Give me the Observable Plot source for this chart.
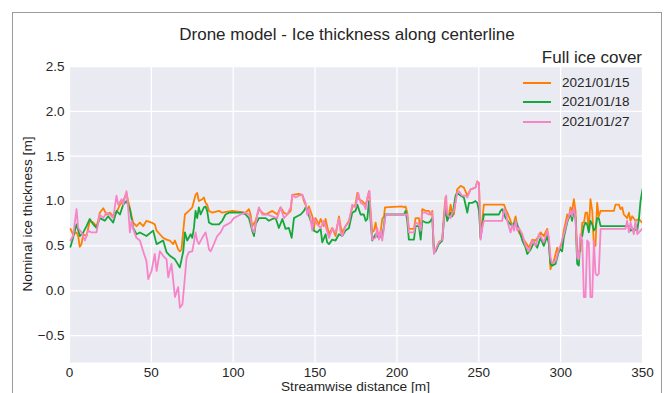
<!DOCTYPE html>
<html>
<head>
<meta charset="utf-8">
<script src="https://cdn.jsdelivr.net/npm/d3@7"></script>
<script src="https://cdn.jsdelivr.net/npm/@observablehq/plot@0.6"></script>
<style>
  html, body { margin: 0; padding: 0; background: #fff; }
  #wrap { position: relative; width: 665px; height: 393px; overflow: hidden; font-family: "Liberation Sans", Arial, sans-serif; color: #262626; }
  #frame { position: absolute; left: 12px; top: 12px; width: 650px; height: 400px; border: 1.5px solid #9a9a9a; box-sizing: border-box; }
  .t { position: absolute; white-space: nowrap; line-height: 1; }
  #chart { position: absolute; left: 0; top: 0; }
  .lg { position: absolute; height: 2px; width: 28px; }
</style>
</head>
<body>
<div id="wrap">
  <div id="frame"></div>
  <div id="chart"></div>
  <div class="t" style="left:347px; top:34px; transform:translate(-50%,-50%); font-size:17px;">Drone model - Ice thickness along centerline</div>
  <div class="t" style="right:23px; top:57px; transform:translateY(-50%); font-size:17px;">Full ice cover</div>
  <div class="t" style="left:355.5px; top:387px; transform:translate(-50%,-50%); font-size:13.7px;">Streamwise distance [m]</div>
  <div class="t" style="left:28px; top:214px; transform:translate(-50%,-50%) rotate(-90deg); font-size:13.7px;">Nominal ice thickness [m]</div>
  <div id="legend"></div>
</div>
<script>
const seriesNames = ["2021/01/15", "2021/01/18", "2021/01/27"];
const seriesColors = ["#ff8000", "#14a83a", "#f784c8"];
const xTicks = [0, 50, 100, 150, 200, 250, 300, 350];
const yTicks = [-0.5, 0, 0.5, 1.0, 1.5, 2.0, 2.5];

const dist15 = [0.6,2.2,4.3,5.3,6.3,7.3,8.4,10.4,12.4,14.5,16.5,17.5,18.5,20.6,22.6,24.6,26.7,28.7,30.8,32.8,34.8,35.8,36.9,37.9,38.9,40.9,43.0,45.0,47.0,50.1,52.1,53.2,55.2,57.2,59.3,61.3,63.3,64.4,66.4,67.4,68.4,69.5,70.5,72.9,75.0,77.0,78.0,79.0,81.1,82.1,83.1,84.1,85.2,87.2,91.3,93.3,99.4,107.6,109.6,110.6,111.6,113.7,115.7,117.7,119.8,123.9,126.9,128.9,131.0,133.0,135.1,136.1,140.1,142.2,143.2,144.2,145.2,146.2,148.3,149.3,150.3,152.3,153.4,155.4,156.4,158.5,160.5,162.5,164.6,165.6,166.6,168.6,170.7,172.7,174.7,175.8,176.8,178.8,180.9,181.9,182.9,183.9,184.9,186.0,187.0,188.0,190.0,191.0,192.1,192.7,203.3,204.3,205.3,206.3,207.3,210.4,211.4,213.4,214.5,215.5,217.5,219.5,220.6,221.6,222.6,223.6,225.6,227.7,228.7,229.7,230.7,231.8,232.8,233.8,234.8,236.8,238.9,240.9,243.0,245.0,248.0,249.1,250.1,251.1,252.1,253.1,265.4,266.4,267.4,269.4,270.5,271.5,272.5,273.5,274.5,276.6,278.6,280.6,282.7,284.7,286.7,287.7,289.7,291.8,292.8,293.8,294.8,295.8,297.9,298.9,300.9,301.9,303.0,304.0,305.0,306.0,307.0,308.1,309.1,310.1,312.1,313.2,314.2,315.2,316.2,317.2,318.2,319.3,320.3,321.3,322.3,323.3,324.4,332.5,333.5,335.6,336.6,337.6,338.6,340.6,341.7,342.7,343.7,345.7,347.8,348.8,349.8,350];
const thick15 = [0.69,0.63,0.65,0.61,0.49,0.52,0.63,0.61,0.78,0.76,0.72,0.78,0.87,0.92,0.85,0.87,0.83,0.87,0.96,1.0,1.09,1.0,0.92,0.83,0.76,0.72,0.76,0.72,0.78,0.76,0.74,0.67,0.63,0.59,0.57,0.56,0.52,0.56,0.46,0.44,0.46,0.67,0.85,0.89,0.93,1.07,1.09,1.0,1.02,1.04,0.98,0.96,0.89,0.87,0.89,0.87,0.89,0.87,0.91,0.85,0.72,0.78,0.91,0.87,0.85,0.89,0.85,0.93,0.87,0.85,0.89,1.07,1.08,1.07,1.0,0.96,0.89,0.94,0.83,0.69,0.81,0.74,0.80,0.72,0.80,0.63,0.70,0.61,0.83,0.72,0.65,0.72,0.78,0.93,0.96,1.09,1.02,1.0,0.96,1.02,1.11,0.89,0.65,0.67,0.76,0.63,0.65,0.80,0.83,0.93,0.94,0.93,0.94,0.87,0.69,0.69,0.81,0.81,0.67,0.91,0.89,0.89,0.85,0.89,0.44,0.44,0.54,0.57,0.85,1.04,0.81,0.85,0.96,0.85,0.85,1.13,1.17,1.15,1.06,1.13,1.15,1.22,1.20,0.59,0.78,0.96,0.96,0.91,0.87,0.78,0.72,0.76,0.83,0.72,0.65,0.59,0.54,0.48,0.57,0.56,0.61,0.65,0.61,0.69,0.56,0.24,0.30,0.33,0.48,0.43,0.54,0.67,0.76,0.85,0.81,0.93,0.89,1.02,0.89,0.44,0.44,0.76,0.76,0.87,0.87,0.67,1.02,0.89,0.50,0.50,0.98,0.83,0.89,0.89,0.96,0.96,0.91,0.93,0.85,0.81,0.87,0.78,0.83,0.78,0.80,0.78,0.76,0.77];

const dist18 = [0.6,2.2,4.3,6.3,8.4,10.4,12.4,14.5,16.5,18.5,21.6,23.6,26.7,28.7,30.8,32.8,34.8,36.9,38.9,40.9,43.0,47.0,51.1,53.2,57.2,59.3,61.3,64.4,67.4,69.5,70.5,71.9,74.0,75.0,76.0,77.0,78.0,79.0,80.1,82.1,83.1,84.1,85.2,87.2,91.3,93.3,95.3,97.4,105.5,107.6,109.6,111.6,112.7,113.7,115.7,119.8,121.8,123.9,125.9,127.9,130.0,132.0,134.0,135.7,137.1,139.1,141.2,143.2,144.2,145.2,147.3,148.3,149.3,151.3,153.4,154.4,156.4,157.4,158.5,160.5,162.5,164.6,166.6,168.6,170.7,172.7,174.7,175.8,177.8,179.8,180.9,181.9,182.9,183.9,184.9,187.0,189.0,191.0,192.1,192.7,204.3,205.3,206.3,207.3,210.4,211.4,213.4,214.5,215.5,217.5,219.5,220.6,221.6,222.6,223.6,225.6,227.7,228.7,229.7,230.7,232.8,233.8,235.8,236.8,238.9,240.9,243.0,244.0,246.0,248.0,249.1,250.1,251.1,252.1,253.1,262.3,263.3,264.3,266.4,268.4,270.5,272.5,274.5,276.6,278.6,279.6,281.7,283.7,285.7,287.7,289.7,291.8,292.8,293.8,294.8,296.9,298.9,299.9,300.9,301.9,304.0,306.0,307.0,308.1,309.1,310.1,311.1,312.1,313.2,314.2,315.2,316.2,317.2,318.2,319.3,320.3,321.3,322.3,323.3,324.4,341.7,342.7,344.7,346.8,347.8,348.8,349.8,350];
const thick18 = [0.49,0.59,0.74,0.61,0.65,0.72,0.80,0.74,0.70,0.81,0.78,0.83,0.76,0.89,0.85,0.96,1.0,0.91,0.70,0.63,0.65,0.61,0.67,0.52,0.56,0.43,0.39,0.35,0.26,0.44,0.65,0.56,0.63,0.59,0.70,0.89,0.81,0.93,0.85,0.93,0.94,0.89,0.76,0.74,0.74,0.78,0.85,0.87,0.87,0.85,0.81,0.67,0.61,0.74,0.81,0.81,0.78,0.80,0.81,0.70,0.80,0.69,0.70,0.59,0.81,0.83,0.85,0.89,0.93,0.89,0.78,0.74,0.67,0.65,0.69,0.54,0.63,0.54,0.52,0.57,0.56,0.63,0.61,0.67,0.70,0.87,0.89,0.96,0.85,0.85,0.78,0.80,1.0,0.78,0.56,0.63,0.59,0.61,0.72,0.85,0.85,0.89,0.78,0.57,0.57,0.72,0.72,0.57,0.78,0.76,0.76,0.78,0.81,0.43,0.44,0.52,0.56,0.78,0.93,0.78,0.87,0.83,1.06,1.09,1.06,1.04,0.87,0.98,0.98,1.0,0.98,0.89,0.59,0.72,0.85,0.85,0.89,0.91,0.81,0.76,0.72,0.78,0.69,0.56,0.48,0.41,0.46,0.54,0.48,0.59,0.50,0.61,0.52,0.30,0.28,0.30,0.44,0.46,0.44,0.59,0.76,0.87,0.78,0.91,0.81,0.30,0.28,0.59,0.61,0.72,0.76,0.74,0.65,0.78,0.74,0.67,0.70,0.81,0.81,0.72,0.72,0.67,0.69,0.67,0.80,1.0,1.11,1.13];

const dist27 = [0.6,2.2,4.3,5.3,7.3,9.4,11.4,13.4,16.5,18.5,20.6,22.6,24.6,26.7,28.7,29.7,31.8,32.8,34.8,35.8,36.9,37.9,38.9,40.9,43.0,45.0,47.0,48.1,50.1,52.1,53.2,55.2,57.2,59.3,60.3,62.3,64.4,66.4,67.4,69.0,70.5,71.5,72.9,75.0,76.0,77.0,78.0,79.0,81.1,83.1,84.1,85.2,86.2,88.2,90.2,92.3,94.3,96.4,98.4,100.4,102.5,104.5,107.6,109.6,110.6,111.6,112.7,113.7,114.7,115.7,117.7,120.8,123.9,126.9,128.9,131.0,133.0,135.1,136.1,138.1,140.1,142.2,144.2,145.2,146.2,148.3,149.3,151.3,153.4,155.4,156.4,158.5,160.5,162.5,164.6,165.6,166.6,168.6,170.7,172.7,174.7,176.4,177.8,179.8,180.9,181.9,183.3,183.9,184.9,187.0,188.0,189.0,190.0,191.0,192.1,193.1,206.3,207.3,210.4,211.4,213.4,214.5,215.5,217.5,219.5,220.6,221.6,222.6,223.6,225.6,227.7,228.7,230.1,230.7,232.8,233.8,234.8,236.8,237.9,239.9,242.0,243.0,245.0,248.0,249.1,250.1,251.1,252.1,253.1,264.3,265.4,266.4,267.4,269.4,270.5,271.5,272.5,273.5,274.5,276.6,278.6,280.6,282.7,284.7,286.7,287.7,289.7,291.8,292.8,293.8,294.8,296.9,298.9,299.9,301.9,304.0,305.0,306.0,307.0,308.1,309.1,310.1,311.1,312.1,313.2,314.2,315.2,316.2,317.2,318.2,319.3,320.3,321.3,322.3,323.3,324.4,339.6,340.6,341.7,342.7,344.7,345.7,346.8,347.8,348.8,349.8];
const thick27 = [0.56,0.61,0.91,0.70,0.65,0.56,0.67,0.65,0.65,0.85,0.81,0.87,0.85,0.81,1.06,0.96,1.02,0.96,1.11,0.93,0.65,0.78,0.69,0.59,0.56,0.44,0.33,0.13,0.22,0.41,0.22,0.44,0.39,0.35,0.15,0.30,-0.07,0.04,-0.19,-0.15,0.15,0.37,0.43,0.44,0.54,0.65,0.56,0.52,0.59,0.65,0.57,0.46,0.44,0.52,0.61,0.65,0.72,0.74,0.76,0.81,0.83,0.85,0.87,0.85,0.80,0.69,0.65,0.74,0.85,0.93,0.85,0.85,0.83,0.81,0.93,0.81,0.85,0.93,1.07,1.04,1.06,1.07,0.98,0.85,0.91,0.67,0.81,0.74,0.70,0.78,0.72,0.59,0.69,0.65,0.80,0.65,0.61,0.72,0.76,0.96,0.93,1.09,0.98,0.96,0.91,1.04,1.11,0.85,0.57,0.59,0.70,0.57,0.67,0.56,0.70,0.85,0.85,0.65,0.65,0.76,0.74,0.67,0.87,0.87,0.85,0.87,0.87,0.41,0.46,0.54,0.57,0.80,1.06,0.85,0.81,0.87,0.89,1.09,1.11,1.06,1.06,1.04,1.13,1.15,1.22,1.20,0.57,0.70,0.78,0.78,0.91,0.89,0.78,0.65,0.74,0.67,0.78,0.67,0.70,0.63,0.50,0.44,0.56,0.50,0.63,0.61,0.54,0.67,0.59,0.37,0.31,0.33,0.46,0.50,0.63,0.78,0.83,0.89,0.83,0.93,0.81,0.37,0.35,0.63,0.56,-0.07,-0.07,0.56,0.54,-0.07,-0.07,0.56,0.19,0.17,0.19,0.69,0.69,0.78,0.65,0.76,0.63,0.78,0.63,0.65,0.67,0.69];

const seriesDist = [dist15, dist18, dist27];
const seriesThick = [thick15, thick18, thick27];
const rows = seriesNames.flatMap((name, i) => seriesDist[i].map((d, j) => ({date: name, dist: d, thick: seriesThick[i][j]})));

const fmtY = d => d.toFixed(1).replace("-", "\u2212");

const chart = Plot.plot({
  width: 665,
  height: 393,
  marginLeft: 69,
  marginRight: 23,
  marginTop: 66,
  marginBottom: 31,
  style: {background: "transparent", fontFamily: "'Liberation Sans', Arial, sans-serif", fontSize: "13.5px", color: "#262626"},
  x: {domain: [0, 350]},
  y: {domain: [-0.8, 2.5]},
  color: {domain: seriesNames, range: seriesColors},
  marks: [
    Plot.frame({fill: "#eaeaf2", stroke: null}),
    Plot.gridX(xTicks, {stroke: "#ffffff", strokeOpacity: 1, strokeWidth: 1.3}),
    Plot.gridY(yTicks, {stroke: "#ffffff", strokeOpacity: 1, strokeWidth: 1.3}),
    Plot.line(rows, {x: "dist", y: "thick", z: "date", stroke: "date", strokeWidth: 1.8, clip: true}),
    Plot.axisX(xTicks, {tickSize: 0, tickPadding: 5, label: null, fontSize: 13.5}),
    Plot.axisY(yTicks, {tickSize: 0, tickPadding: 5, label: null, tickFormat: fmtY, fontSize: 13.5})
  ]
});
document.getElementById("chart").appendChild(chart);

const legend = document.getElementById("legend");
const rowY = [82.5, 102, 121.5];
seriesNames.forEach((name, i) => {
  const ln = document.createElement("div");
  ln.className = "lg";
  ln.style.left = "523px";
  ln.style.top = (rowY[i] - 1) + "px";
  ln.style.background = seriesColors[i];
  legend.appendChild(ln);
  const tx = document.createElement("div");
  tx.className = "t";
  tx.style.left = "562px";
  tx.style.top = rowY[i] + "px";
  tx.style.transform = "translateY(-50%)";
  tx.style.fontSize = "13.5px";
  tx.textContent = name;
  legend.appendChild(tx);
});
</script>
</body>
</html>
